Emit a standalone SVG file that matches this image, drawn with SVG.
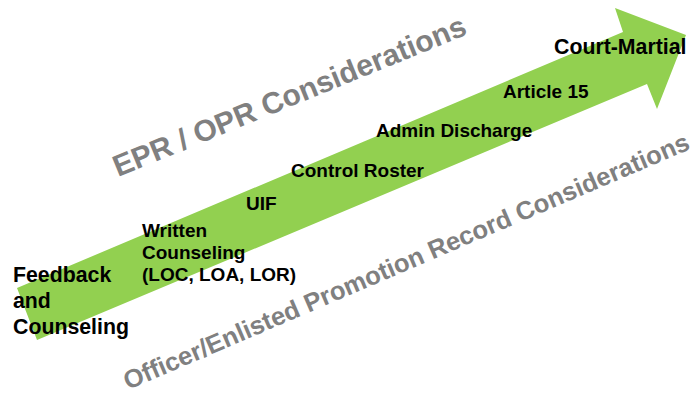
<svg xmlns="http://www.w3.org/2000/svg" width="700" height="395" viewBox="0 0 700 395">
  <style>
    .step { font-family: "Liberation Sans", Arial, sans-serif; font-weight: bold; fill: #000000; font-size: 19px; }
    .big { font-size: 21.3px; }
    .band { font-family: "Liberation Sans", Arial, sans-serif; font-weight: bold; fill: #808080; }
  </style>
  <rect width="700" height="395" fill="#ffffff"/>

  <!-- rising progression arrow -->
  <g id="arrow">
    <polygon points="17,288 623,32 615,8 686,35 657,109 647,84 37,340" fill="#92D050"/>
  </g>

  <!-- side captions along the arrow -->
  <g id="epr-opr">
    <text class="band" font-size="30" transform="translate(118,177) rotate(-22.2)">EPR / OPR Considerations</text>
  </g>
  <g id="promotion-record">
    <text class="band" font-size="25.6" transform="translate(128,390) rotate(-23.2)">Officer/Enlisted Promotion Record Considerations</text>
  </g>

  <!-- steps, lowest to highest -->
  <g id="feedback">
    <text class="step big" x="13" y="282">Feedback</text>
    <text class="step big" x="13" y="308">and</text>
    <text class="step big" x="13" y="334">Counseling</text>
  </g>
  <g id="written-counseling">
    <text class="step" x="142" y="237">Written</text>
    <text class="step" x="142" y="259">Counseling</text>
    <text class="step" x="142" y="281">(LOC, LOA, LOR)</text>
  </g>
  <g id="uif">
    <text class="step" x="246" y="210">UIF</text>
  </g>
  <g id="control-roster">
    <text class="step" x="291" y="177">Control Roster</text>
  </g>
  <g id="admin-discharge">
    <text class="step" x="376" y="137">Admin Discharge</text>
  </g>
  <g id="article-15">
    <text class="step" x="503" y="98">Article 15</text>
  </g>
  <g id="court-martial">
    <text class="step big" x="554" y="54">Court-Martial</text>
  </g>
</svg>
